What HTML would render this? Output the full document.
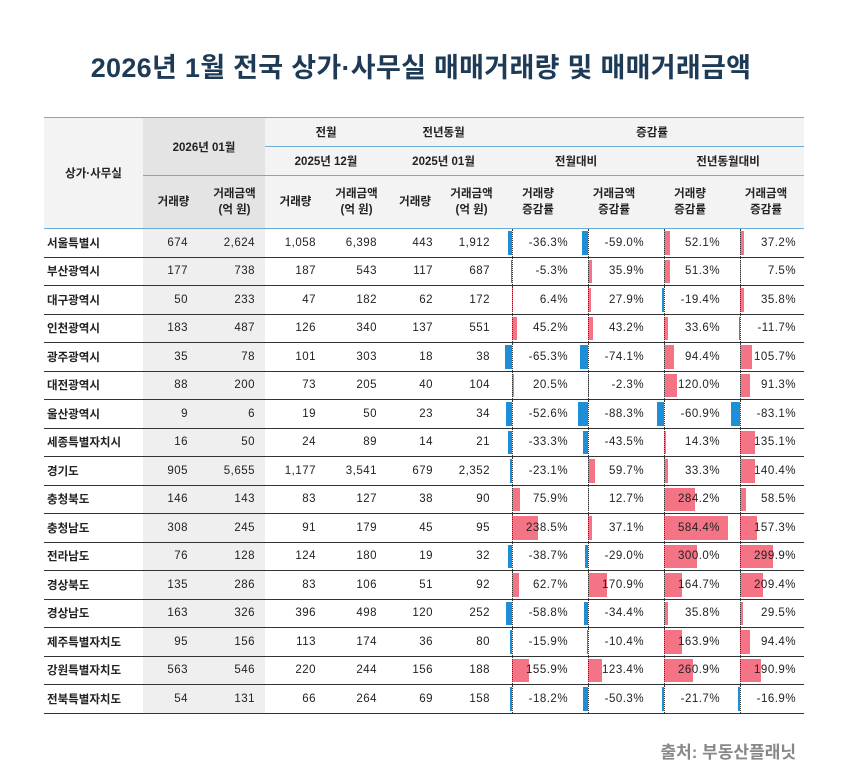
<!DOCTYPE html>
<html><head><meta charset="utf-8">
<style>
body{margin:0;width:842px;height:777px;background:#fff;font-family:"Liberation Sans","Noto Sans CJK KR",sans-serif;position:relative;overflow:hidden}
h1{position:absolute;top:46px;left:0;width:842px;margin:0;text-align:center;font-size:27px;font-weight:bold;color:#1d3a56;letter-spacing:0.3px}
table{position:absolute;left:44px;top:117px;width:760px;border-collapse:collapse;table-layout:fixed;font-size:11.5px;color:#222}
th{font-weight:bold;background:#f3f3f3;text-align:center;border-bottom:1.5px solid #6aaed8;padding:0;font-size:11.5px}
thead tr:first-child th{border-top:1.5px solid #6aaed8}
th.sh{background:#e4e4e4}
tr.h1 th,tr.h2 th{height:28px}
tr.h3 th{height:52px;line-height:16px}
td{height:27.5px;border-bottom:1.5px solid #333;padding:0;text-align:right;padding-right:10px;letter-spacing:0.5px}
td.nm{text-align:left;padding-left:3px;padding-right:0;font-weight:bold;letter-spacing:0}
td.s1,td.s2{background:#efefef}
td.s1{padding-right:16px}
td.g{position:relative;padding-right:8px}
td.g .ax{position:absolute;left:12px;top:0;bottom:0;border-left:1px dotted #333}
td.g .c{position:absolute;left:12px;top:2px;bottom:2px;width:0}
td.g .p{position:absolute;left:0;top:0;bottom:0;background:#f47384}
td.g .n{position:absolute;right:0;top:0;bottom:0;background:#1e8ed8}
td.g span{position:relative}
.src{position:absolute;right:46px;top:738px;font-size:17px;color:#888;font-weight:bold}
</style></head><body>
<h1>2026년 1월 전국 상가·사무실 매매거래량 및 매매거래금액</h1>
<table>
<colgroup><col style="width:99px"><col style="width:61px"><col style="width:61px"><col style="width:61px"><col style="width:61px"><col style="width:56px"><col style="width:57px"><col style="width:76px"><col style="width:76px"><col style="width:76px"><col style="width:76px"></colgroup>
<thead>
<tr class="h1"><th rowspan="3">상가·사무실</th><th class="sh" colspan="2" rowspan="2">2026년 01월</th><th colspan="2">전월</th><th colspan="2">전년동월</th><th colspan="4">증감률</th></tr>
<tr class="h2"><th colspan="2">2025년 12월</th><th colspan="2">2025년 01월</th><th colspan="2">전월대비</th><th colspan="2">전년동월대비</th></tr>
<tr class="h3"><th class="sh">거래량</th><th class="sh">거래금액<br>(억 원)</th><th>거래량</th><th>거래금액<br>(억 원)</th><th>거래량</th><th>거래금액<br>(억 원)</th><th>거래량<br>증감률</th><th>거래금액<br>증감률</th><th>거래량<br>증감률</th><th>거래금액<br>증감률</th></tr>
</thead>
<tbody>
<tr><td class="nm">서울특별시</td><td class="s1">674</td><td class="s2">2,624</td><td>1,058</td><td>6,398</td><td>443</td><td>1,912</td><td class="g"><i class="c"><b class="n" style="width:4px"></b></i><i class="ax"></i><span>-36.3%</span></td><td class="g"><i class="c"><b class="n" style="width:6.5px"></b></i><i class="ax"></i><span>-59.0%</span></td><td class="g"><i class="c"><b class="p" style="width:5.7px"></b></i><i class="ax"></i><span>52.1%</span></td><td class="g"><i class="c"><b class="p" style="width:4.1px"></b></i><i class="ax"></i><span>37.2%</span></td></tr>
<tr><td class="nm">부산광역시</td><td class="s1">177</td><td class="s2">738</td><td>187</td><td>543</td><td>117</td><td>687</td><td class="g"><i class="c"><b class="n" style="width:0.6px"></b></i><i class="ax"></i><span>-5.3%</span></td><td class="g"><i class="c"><b class="p" style="width:3.9px"></b></i><i class="ax"></i><span>35.9%</span></td><td class="g"><i class="c"><b class="p" style="width:5.6px"></b></i><i class="ax"></i><span>51.3%</span></td><td class="g"><i class="c"><b class="p" style="width:0.8px"></b></i><i class="ax"></i><span>7.5%</span></td></tr>
<tr><td class="nm">대구광역시</td><td class="s1">50</td><td class="s2">233</td><td>47</td><td>182</td><td>62</td><td>172</td><td class="g"><i class="c"><b class="p" style="width:0.7px"></b></i><i class="ax"></i><span>6.4%</span></td><td class="g"><i class="c"><b class="p" style="width:3.1px"></b></i><i class="ax"></i><span>27.9%</span></td><td class="g"><i class="c"><b class="n" style="width:2.1px"></b></i><i class="ax"></i><span>-19.4%</span></td><td class="g"><i class="c"><b class="p" style="width:3.9px"></b></i><i class="ax"></i><span>35.8%</span></td></tr>
<tr><td class="nm">인천광역시</td><td class="s1">183</td><td class="s2">487</td><td>126</td><td>340</td><td>137</td><td>551</td><td class="g"><i class="c"><b class="p" style="width:5px"></b></i><i class="ax"></i><span>45.2%</span></td><td class="g"><i class="c"><b class="p" style="width:4.8px"></b></i><i class="ax"></i><span>43.2%</span></td><td class="g"><i class="c"><b class="p" style="width:3.7px"></b></i><i class="ax"></i><span>33.6%</span></td><td class="g"><i class="c"><b class="n" style="width:1.3px"></b></i><i class="ax"></i><span>-11.7%</span></td></tr>
<tr><td class="nm">광주광역시</td><td class="s1">35</td><td class="s2">78</td><td>101</td><td>303</td><td>18</td><td>38</td><td class="g"><i class="c"><b class="n" style="width:7.2px"></b></i><i class="ax"></i><span>-65.3%</span></td><td class="g"><i class="c"><b class="n" style="width:8.2px"></b></i><i class="ax"></i><span>-74.1%</span></td><td class="g"><i class="c"><b class="p" style="width:10.4px"></b></i><i class="ax"></i><span>94.4%</span></td><td class="g"><i class="c"><b class="p" style="width:11.6px"></b></i><i class="ax"></i><span>105.7%</span></td></tr>
<tr><td class="nm">대전광역시</td><td class="s1">88</td><td class="s2">200</td><td>73</td><td>205</td><td>40</td><td>104</td><td class="g"><i class="c"><b class="p" style="width:2.3px"></b></i><i class="ax"></i><span>20.5%</span></td><td class="g"><i class="c"><b class="n" style="width:0.3px"></b></i><i class="ax"></i><span>-2.3%</span></td><td class="g"><i class="c"><b class="p" style="width:13.2px"></b></i><i class="ax"></i><span>120.0%</span></td><td class="g"><i class="c"><b class="p" style="width:10px"></b></i><i class="ax"></i><span>91.3%</span></td></tr>
<tr><td class="nm">울산광역시</td><td class="s1">9</td><td class="s2">6</td><td>19</td><td>50</td><td>23</td><td>34</td><td class="g"><i class="c"><b class="n" style="width:5.8px"></b></i><i class="ax"></i><span>-52.6%</span></td><td class="g"><i class="c"><b class="n" style="width:9.7px"></b></i><i class="ax"></i><span>-88.3%</span></td><td class="g"><i class="c"><b class="n" style="width:6.7px"></b></i><i class="ax"></i><span>-60.9%</span></td><td class="g"><i class="c"><b class="n" style="width:9.1px"></b></i><i class="ax"></i><span>-83.1%</span></td></tr>
<tr><td class="nm">세종특별자치시</td><td class="s1">16</td><td class="s2">50</td><td>24</td><td>89</td><td>14</td><td>21</td><td class="g"><i class="c"><b class="n" style="width:3.7px"></b></i><i class="ax"></i><span>-33.3%</span></td><td class="g"><i class="c"><b class="n" style="width:4.8px"></b></i><i class="ax"></i><span>-43.5%</span></td><td class="g"><i class="c"><b class="p" style="width:1.6px"></b></i><i class="ax"></i><span>14.3%</span></td><td class="g"><i class="c"><b class="p" style="width:14.9px"></b></i><i class="ax"></i><span>135.1%</span></td></tr>
<tr><td class="nm">경기도</td><td class="s1">905</td><td class="s2">5,655</td><td>1,177</td><td>3,541</td><td>679</td><td>2,352</td><td class="g"><i class="c"><b class="n" style="width:2.5px"></b></i><i class="ax"></i><span>-23.1%</span></td><td class="g"><i class="c"><b class="p" style="width:6.6px"></b></i><i class="ax"></i><span>59.7%</span></td><td class="g"><i class="c"><b class="p" style="width:3.7px"></b></i><i class="ax"></i><span>33.3%</span></td><td class="g"><i class="c"><b class="p" style="width:15.4px"></b></i><i class="ax"></i><span>140.4%</span></td></tr>
<tr><td class="nm">충청북도</td><td class="s1">146</td><td class="s2">143</td><td>83</td><td>127</td><td>38</td><td>90</td><td class="g"><i class="c"><b class="p" style="width:8.3px"></b></i><i class="ax"></i><span>75.9%</span></td><td class="g"><i class="c"><b class="p" style="width:1.4px"></b></i><i class="ax"></i><span>12.7%</span></td><td class="g"><i class="c"><b class="p" style="width:31.3px"></b></i><i class="ax"></i><span>284.2%</span></td><td class="g"><i class="c"><b class="p" style="width:6.4px"></b></i><i class="ax"></i><span>58.5%</span></td></tr>
<tr><td class="nm">충청남도</td><td class="s1">308</td><td class="s2">245</td><td>91</td><td>179</td><td>45</td><td>95</td><td class="g"><i class="c"><b class="p" style="width:26.2px"></b></i><i class="ax"></i><span>238.5%</span></td><td class="g"><i class="c"><b class="p" style="width:4.1px"></b></i><i class="ax"></i><span>37.1%</span></td><td class="g"><i class="c"><b class="p" style="width:64.3px"></b></i><i class="ax"></i><span>584.4%</span></td><td class="g"><i class="c"><b class="p" style="width:17.3px"></b></i><i class="ax"></i><span>157.3%</span></td></tr>
<tr><td class="nm">전라남도</td><td class="s1">76</td><td class="s2">128</td><td>124</td><td>180</td><td>19</td><td>32</td><td class="g"><i class="c"><b class="n" style="width:4.3px"></b></i><i class="ax"></i><span>-38.7%</span></td><td class="g"><i class="c"><b class="n" style="width:3.2px"></b></i><i class="ax"></i><span>-29.0%</span></td><td class="g"><i class="c"><b class="p" style="width:33px"></b></i><i class="ax"></i><span>300.0%</span></td><td class="g"><i class="c"><b class="p" style="width:33px"></b></i><i class="ax"></i><span>299.9%</span></td></tr>
<tr><td class="nm">경상북도</td><td class="s1">135</td><td class="s2">286</td><td>83</td><td>106</td><td>51</td><td>92</td><td class="g"><i class="c"><b class="p" style="width:6.9px"></b></i><i class="ax"></i><span>62.7%</span></td><td class="g"><i class="c"><b class="p" style="width:18.8px"></b></i><i class="ax"></i><span>170.9%</span></td><td class="g"><i class="c"><b class="p" style="width:18.1px"></b></i><i class="ax"></i><span>164.7%</span></td><td class="g"><i class="c"><b class="p" style="width:23px"></b></i><i class="ax"></i><span>209.4%</span></td></tr>
<tr><td class="nm">경상남도</td><td class="s1">163</td><td class="s2">326</td><td>396</td><td>498</td><td>120</td><td>252</td><td class="g"><i class="c"><b class="n" style="width:6.5px"></b></i><i class="ax"></i><span>-58.8%</span></td><td class="g"><i class="c"><b class="n" style="width:3.8px"></b></i><i class="ax"></i><span>-34.4%</span></td><td class="g"><i class="c"><b class="p" style="width:3.9px"></b></i><i class="ax"></i><span>35.8%</span></td><td class="g"><i class="c"><b class="p" style="width:3.2px"></b></i><i class="ax"></i><span>29.5%</span></td></tr>
<tr><td class="nm">제주특별자치도</td><td class="s1">95</td><td class="s2">156</td><td>113</td><td>174</td><td>36</td><td>80</td><td class="g"><i class="c"><b class="n" style="width:1.7px"></b></i><i class="ax"></i><span>-15.9%</span></td><td class="g"><i class="c"><b class="n" style="width:1.1px"></b></i><i class="ax"></i><span>-10.4%</span></td><td class="g"><i class="c"><b class="p" style="width:18px"></b></i><i class="ax"></i><span>163.9%</span></td><td class="g"><i class="c"><b class="p" style="width:10.4px"></b></i><i class="ax"></i><span>94.4%</span></td></tr>
<tr><td class="nm">강원특별자치도</td><td class="s1">563</td><td class="s2">546</td><td>220</td><td>244</td><td>156</td><td>188</td><td class="g"><i class="c"><b class="p" style="width:17.1px"></b></i><i class="ax"></i><span>155.9%</span></td><td class="g"><i class="c"><b class="p" style="width:13.6px"></b></i><i class="ax"></i><span>123.4%</span></td><td class="g"><i class="c"><b class="p" style="width:28.7px"></b></i><i class="ax"></i><span>260.9%</span></td><td class="g"><i class="c"><b class="p" style="width:21px"></b></i><i class="ax"></i><span>190.9%</span></td></tr>
<tr><td class="nm">전북특별자치도</td><td class="s1">54</td><td class="s2">131</td><td>66</td><td>264</td><td>69</td><td>158</td><td class="g"><i class="c"><b class="n" style="width:2px"></b></i><i class="ax"></i><span>-18.2%</span></td><td class="g"><i class="c"><b class="n" style="width:5.5px"></b></i><i class="ax"></i><span>-50.3%</span></td><td class="g"><i class="c"><b class="n" style="width:2.4px"></b></i><i class="ax"></i><span>-21.7%</span></td><td class="g"><i class="c"><b class="n" style="width:1.9px"></b></i><i class="ax"></i><span>-16.9%</span></td></tr>
</tbody>
</table>
<div class="src">출처: 부동산플래닛</div>
</body></html>
